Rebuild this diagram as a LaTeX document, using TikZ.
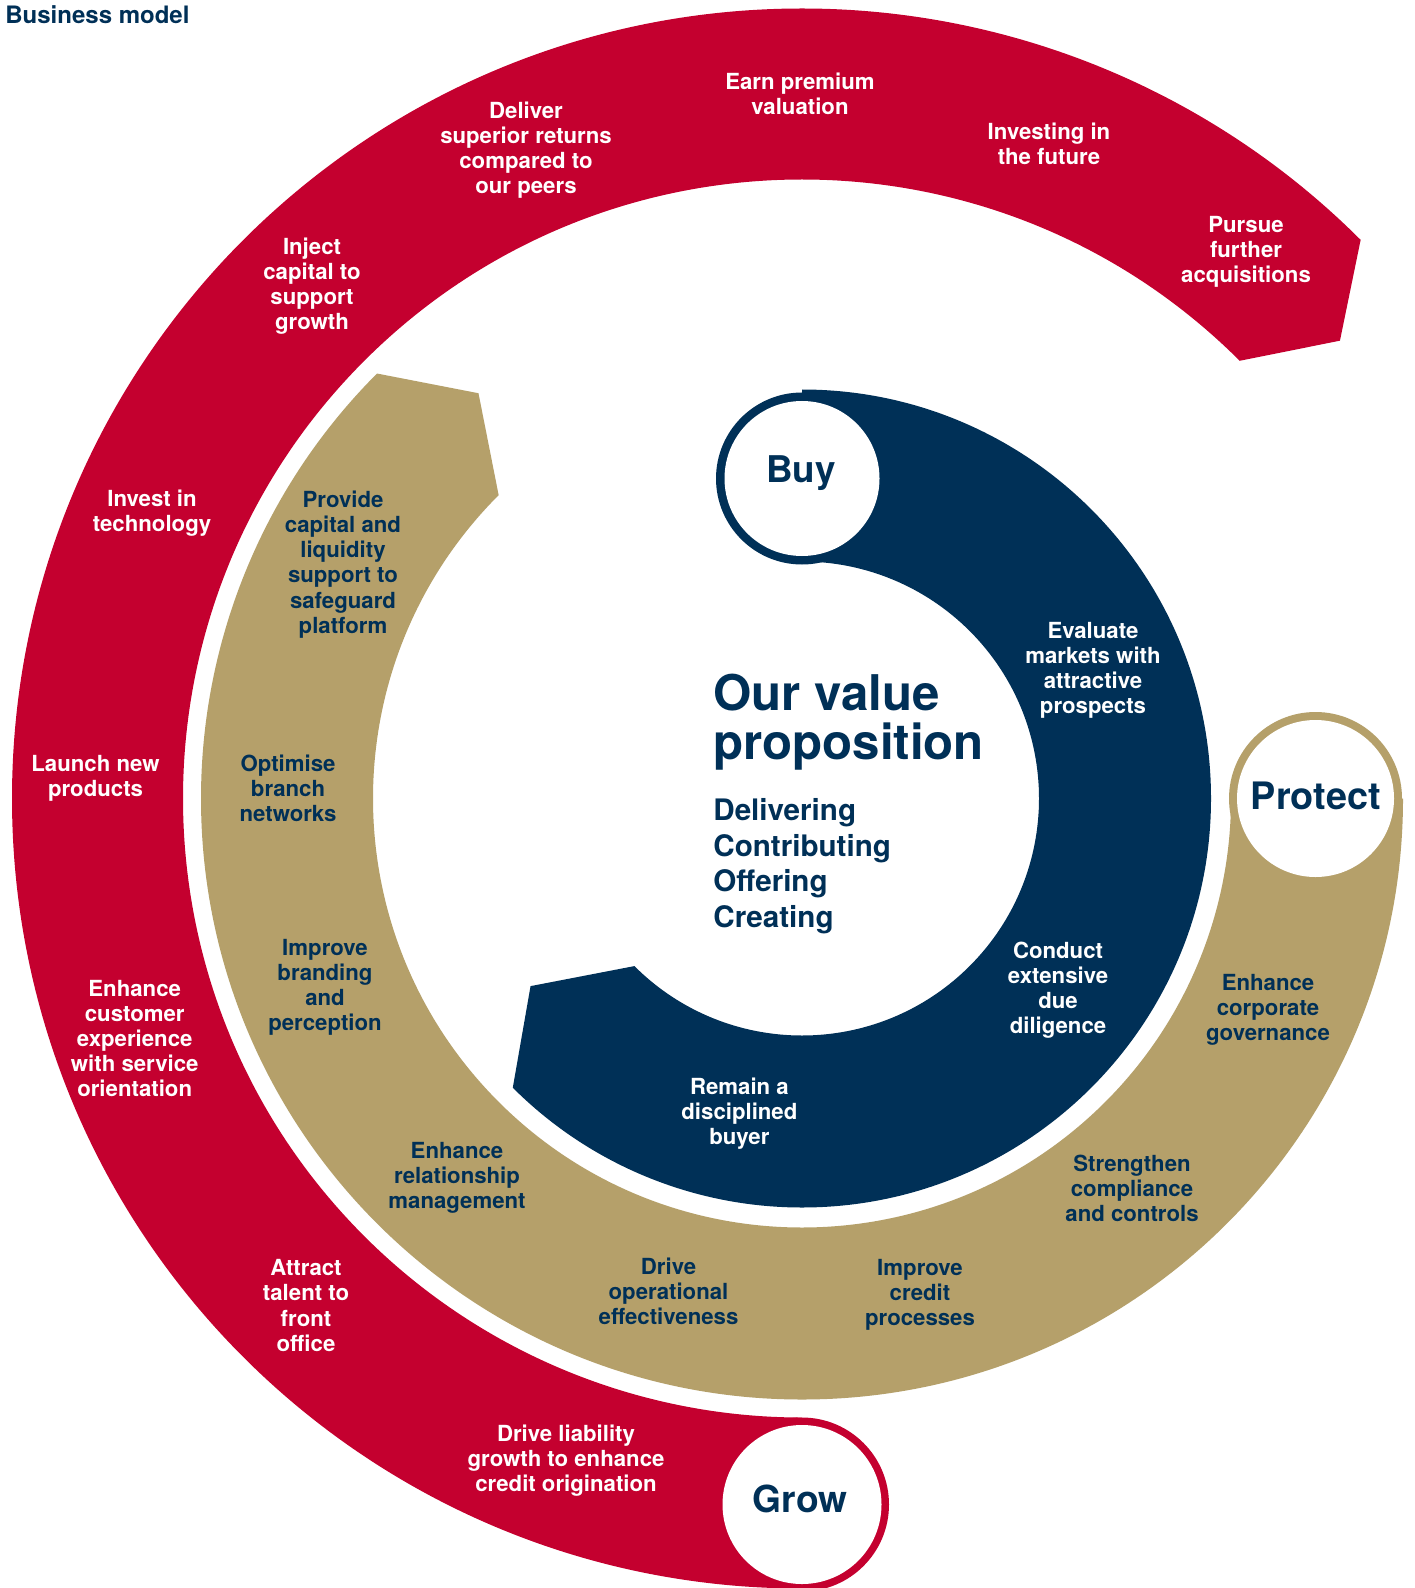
\documentclass[tikz,border=0pt]{standalone}
\usepackage{fontspec}
\setmainfont{TeX Gyre Heros}
\definecolor{bmred}{RGB}{196,0,47}
\definecolor{bmnavy}{RGB}{0,48,87}
\definecolor{bmgold}{RGB}{181,160,106}

\begin{document}
\begin{tikzpicture}[x=0.5pt,y=0.5pt,
  lab/.style={align=center,inner sep=0pt,font=\fontsize{11.1}{12.55}\selectfont\bfseries},
  onred/.style={lab,text=white},
  onnavy/.style={lab,text=white},
  ongold/.style={lab,text=bmnavy},
  hub/.style={inner sep=0pt,anchor=base,text=bmnavy,font=\fontsize{18.4}{18.4}\selectfont\bfseries},
]
\useasboundingbox (0,0) rectangle (1414,-1588);
\fill[white] (0,0) rectangle (1414,-1588);

% the three rings, all around one centre
\begin{scope}[shift={(802,-798.5)}]
  % outer ring: Grow
  \fill[bmred] (-90:790) arc[start angle=-90,end angle=-315,radius=790]
     -- (-319.6:706.4) -- (-315:619)
     arc[start angle=-315,end angle=-90,radius=619] -- cycle;
  \fill[bmred] (-90:706) circle[radius=87];
  \fill[white] (-90:706) circle[radius=79.5];
  % middle ring: Protect
  \fill[bmgold] (0:601) arc[start angle=0,end angle=-225,radius=601]
     -- (-231.4:518.6) -- (-225:429)
     arc[start angle=-225,end angle=0,radius=429] -- cycle;
  \fill[bmgold] (0:513.5) circle[radius=86.5];
  \fill[white] (0:513.5) circle[radius=78.5];
  % inner ring: Buy
  \fill[bmnavy] (90:409) arc[start angle=90,end angle=-135,radius=409]
     -- (-145.35:330) -- (-135:237)
     arc[start angle=-135,end angle=90,radius=237] -- cycle;
  \fill[bmnavy] (90:320) circle[radius=86];
  \fill[white] (90:320) circle[radius=77.5];
\end{scope}

% heading
\node[inner sep=0pt,anchor=base west,text=bmnavy,font=\fontsize{12}{12}\selectfont\bfseries]
  (title) at (5,-23.3) {Business model};

% hub labels
\node[hub] (buy) at (801,-482.3) {Buy};
\node[hub,font=\fontsize{18.9}{18.9}\selectfont\bfseries] (protect) at (1315.8,-809.3) {Protect};
\node[hub,font=\fontsize{18.6}{18.6}\selectfont\bfseries] (grow) at (800.3,-1512.7) {Grow};

% centre statement
\node[inner sep=0pt,anchor=north west,align=left,text=bmnavy,
      font=\fontsize{24.6}{24.4}\selectfont\bfseries]
  (vp) at (713,-674) {Our value\\proposition};
\node[inner sep=0pt,anchor=north west,align=left,text=bmnavy,
      font=\fontsize{14.8}{17.85}\selectfont\bfseries]
  (verbs) at (713,-798) {Delivering\\Contributing\\Offering\\Creating};

% outer ring labels
\node[onred] (earn) at (800,-94) {Earn premium\\valuation};
\node[onred] (deliver) at (526,-150) {Deliver\\superior returns\\compared to\\our peers};
\node[onred] (investing) at (1049,-143.5) {Investing in\\the future};
\node[onred] (pursue) at (1246,-252) {Pursue\\further\\acquisitions};
\node[onred] (inject) at (312,-286) {Inject\\capital to\\support\\growth};
\node[onred] (tech) at (152,-513.5) {Invest in\\technology};
\node[onred] (launch) at (95.5,-778) {Launch new\\products};
\node[onred] (custexp) at (134.7,-1038.5) {Enhance\\customer\\experience\\with service\\orientation};
\node[onred] (talent) at (306,-1305.5) {Attract\\talent to\\front\\office};
\node[onred] (liability) at (566,-1461) {Drive liability\\growth to enhance\\credit origination};

% middle ring labels
\node[ongold] (provide) at (343,-564.5) {Provide\\capital and\\liquidity\\support to\\safeguard\\platform};
\node[ongold] (branch) at (288,-788.5) {Optimise\\branch\\networks};
\node[ongold] (branding) at (325,-987.5) {Improve\\branding\\and\\perception};
\node[ongold] (relation) at (457,-1177.5) {Enhance\\relationship\\management};
\node[ongold] (operate) at (668.5,-1291.5) {Drive\\operational\\effectiveness};
\node[ongold] (credit) at (920,-1294.5) {Improve\\credit\\processes};
\node[ongold] (comply) at (1132,-1188.5) {Strengthen\\compliance\\and controls};
\node[ongold] (govern) at (1268,-1009.5) {Enhance\\corporate\\governance};

% inner ring labels
\node[onnavy] (evaluate) at (1093,-670.5) {Evaluate\\markets with\\attractive\\prospects};
\node[onnavy] (diligence) at (1058,-990) {Conduct\\extensive\\due\\diligence};
\node[onnavy] (disciplined) at (739.4,-1113.5) {Remain a\\disciplined\\buyer};
\end{tikzpicture}
\end{document}
